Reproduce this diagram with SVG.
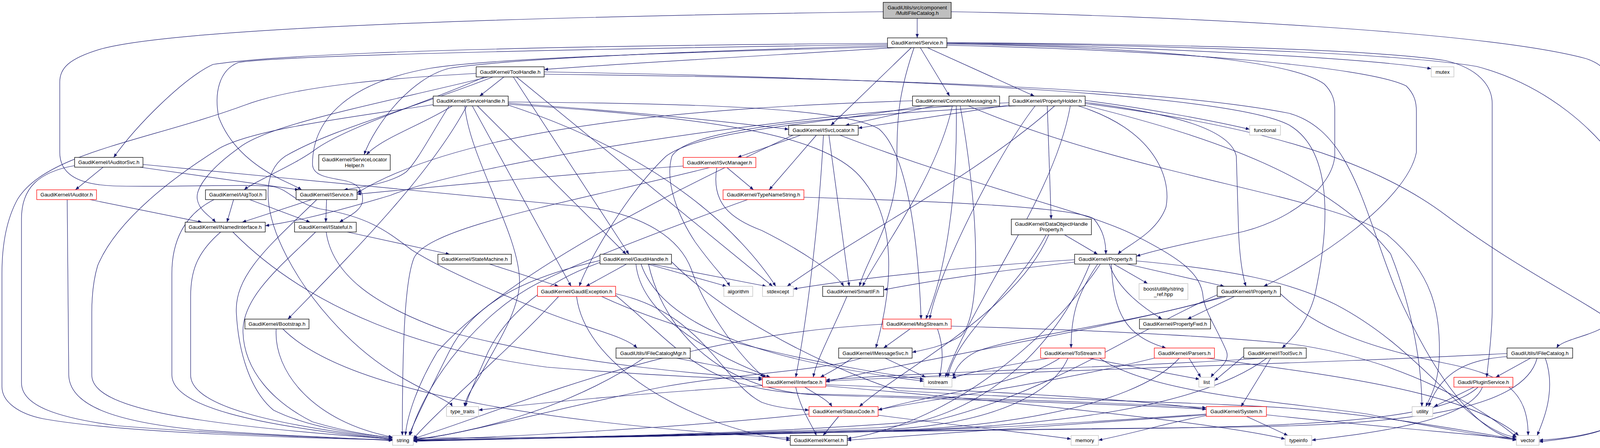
<svg xmlns="http://www.w3.org/2000/svg" width="4225" height="1147" viewBox="0 0 4225 1147">
<defs>
<marker id="a" markerUnits="userSpaceOnUse" markerWidth="11" markerHeight="8" refX="10" refY="4" orient="auto"><path d="M0,0 L10,4 L0,8 z" fill="#191970"/></marker>
</defs>
<style>
.e{fill:none;stroke:#191970;stroke-width:1.2;marker-end:url(#a)}
.node rect{fill:#fff;stroke:#000;stroke-width:1.3}
.node.r rect{stroke:#ff0000}
.node.g rect{stroke:#bfbfbf}
.node.root rect{fill:#bfbfbf}
.node text{font-family:"Liberation Sans",Arial,sans-serif;font-size:13.3px;text-anchor:middle;fill:#000}
</style>
<rect width="4225" height="1147" fill="#fff"/>
<g id="edges">
<path class="e" d="M2348,47 L2348,97"/>
<path class="e" d="M2435,30 C3000,40 3800,80 4060,150 C4105,165 4115,185 4115,210 L4115,820 C4115,855 4000,865 3985,891"/>
<path class="e" d="M2261,30 C1700,38 500,60 260,125 C175,150 153,175 153,210 L153,390 C153,440 190,472 290,476 C420,480 650,470 700,478 C740,485 755,520 820,535 C950,555 1000,600 1054,640 C1150,700 1300,760 1400,800 C1500,840 1600,860 1631,891"/>
<path class="e" d="M2290,122 C2000,140 1600,162 1393,178"/>
<path class="e" d="M2333,122 L2127,321"/>
<path class="e" d="M2356,122 L2431,246"/>
<path class="e" d="M2374,122 L2648,246"/>
<path class="e" d="M2340,122 C2300,240 2296,300 2296,420 C2296,560 2220,660 2200,733"/>
<path class="e" d="M2272,111 C1800,114 800,125 545,165 C470,200 350,320 291,403"/>
<path class="e" d="M2272,114 C1700,122 720,140 610,160 C560,180 548,240 560,300 C590,380 660,430 720,460 C745,472 760,478 772,486"/>
<path class="e" d="M2272,117 C1800,130 1300,150 1150,175 C1050,200 960,320 932,396"/>
<path class="e" d="M2272,120 C1700,135 1250,150 1100,175 C900,210 800,300 800,420 C800,450 840,455 880,462 C920,470 930,490 928,515 C925,540 890,555 869,569"/>
<path class="e" d="M2424,113 C2900,120 3300,150 3390,215 C3410,235 3417,255 3417,280 L3417,400 C3410,480 3300,570 3160,598 C3050,620 2960,640 2909,656"/>
<path class="e" d="M2424,116 C3000,128 3500,170 3600,220 C3620,240 3626,260 3626,285 L3626,390 C3600,520 3350,680 3235,733"/>
<path class="e" d="M2424,111 C2900,118 3500,148 3664,176"/>
<path class="e" d="M2424,109 C3000,113 3500,125 3700,155 C3785,175 3820,220 3820,265 L3820,800 C3818,880 3808,940 3806,966"/>
<path class="e" d="M2424,110 C3100,117 3600,140 3780,170 C3950,215 4100,330 4180,480 C4212,560 4218,650 4218,720 L4218,1000 C4212,1090 4050,1122 3940,1127"/>
<path class="e" d="M1290,197 L1228,246"/>
<path class="e" d="M1219,188 C1000,200 760,220 630,268 C380,360 120,390 45,510 C12,570 5,640 5,700 L5,990 C5,1030 50,1060 110,1072 C320,1110 800,1122 1005,1126"/>
<path class="e" d="M1240,197 C1100,260 900,320 811,380 C760,420 650,465 625,486"/>
<path class="e" d="M1250,197 C950,270 680,320 610,380 C540,430 500,480 505,510 C510,540 540,555 552,569"/>
<path class="e" d="M1314,197 L1610,651"/>
<path class="e" d="M1322,197 L1978,733"/>
<path class="e" d="M1393,184 C2300,200 3150,240 3300,320 C3420,390 3400,600 3365,760 C3345,830 3305,870 3282,891"/>
<path class="e" d="M1393,190 C2300,200 3000,230 3300,290 C3480,340 3500,600 3600,800 C3690,990 3790,1110 3882,1125"/>
<path class="e" d="M1262,197 C1050,280 850,330 730,400 C600,490 780,810 1000,950 C1100,1010 1150,1025 1158,1041"/>
<path class="e" d="M1301,264 C1600,285 1850,310 2019,331"/>
<path class="e" d="M1209,271 L1462,733"/>
<path class="e" d="M1222,271 L1603,651"/>
<path class="e" d="M1195,271 C1100,450 900,650 737,817"/>
<path class="e" d="M1301,261 C1700,265 2150,270 2250,330 C2320,390 2350,600 2358,817"/>
<path class="e" d="M1301,267 C1800,300 2100,340 2200,450 C2300,560 2285,740 2242,891"/>
<path class="e" d="M1158,271 C1080,320 980,352 938,396"/>
<path class="e" d="M1150,271 C1100,350 1070,410 1040,440 C1000,470 920,480 880,486"/>
<path class="e" d="M1109,268 C900,300 650,330 561,380 C450,450 300,560 250,680 C238,720 235,760 235,800 L235,960 C235,1040 450,1085 1005,1124"/>
<path class="e" d="M1301,269 C1700,400 1900,600 1986,733"/>
<path class="e" d="M1190,271 C1200,400 1330,600 1330,720 C1330,800 1260,900 1230,960 C1205,1000 1192,1020 1189,1041"/>
<path class="e" d="M2391,271 L2164,321"/>
<path class="e" d="M2448,271 C2452,500 2420,700 2370,817"/>
<path class="e" d="M2438,271 C2400,450 2250,650 2208,733"/>
<path class="e" d="M2458,271 C2500,500 2520,800 2460,860 C2420,885 2370,895 2335,902"/>
<path class="e" d="M2479,271 C2900,450 3400,500 3550,600 C3670,700 3685,800 3685,900 C3685,980 3660,1020 3650,1041"/>
<path class="e" d="M2360,271 C2100,320 1800,330 1705,400 C1600,500 1500,680 1483,733"/>
<path class="e" d="M2336,258 C1800,275 1200,320 914,494"/>
<path class="e" d="M2583,269 C2450,290 2300,312 2197,328"/>
<path class="e" d="M2681,271 L2691,561"/>
<path class="e" d="M2760,271 C2950,330 3000,450 2985,530 C2960,600 2880,630 2862,651"/>
<path class="e" d="M2778,262 C3000,290 3150,330 3165,400 L3171,600 C3175,680 3185,720 3190,733"/>
<path class="e" d="M2778,257 C2950,280 3100,308 3199,331"/>
<path class="e" d="M2778,265 C3200,320 3500,400 3700,550 C3900,700 4100,790 4160,850 L4165,1050 C4150,1110 4000,1125 3940,1131"/>
<path class="e" d="M2778,270 C3100,350 3400,450 3560,650 C3620,800 3640,950 3640,1041"/>
<path class="e" d="M2740,271 C2700,500 2500,750 2420,966"/>
<path class="e" d="M2700,271 C2500,450 2200,600 2015,733"/>
<path class="e" d="M2600,271 C2100,300 1760,330 1720,400 C1700,470 1740,560 1780,620 C1830,690 1860,715 1868,733"/>
<path class="e" d="M2650,271 C2550,400 2400,700 2380,817"/>
<path class="e" d="M2583,263 C2000,290 1200,420 1000,500 C800,560 720,572 679,578"/>
<path class="e" d="M2050,346 L1888,403"/>
<path class="e" d="M2090,346 L1969,486"/>
<path class="e" d="M2122,346 L2174,733"/>
<path class="e" d="M2108,346 C2095,600 2060,850 2037,966"/>
<path class="e" d="M2030,346 C1700,500 1300,700 1120,900 C1060,1000 1040,1080 1038,1115"/>
<path class="e" d="M2150,346 C2500,480 2780,540 2900,600 C3020,660 3075,700 3080,760 C3085,800 3120,850 3140,900 C3150,930 3110,950 3100,966"/>
<path class="e" d="M1749,425 C1400,450 1100,480 914,497"/>
<path class="e" d="M1861,429 L1929,486"/>
<path class="e" d="M1835,429 C1820,520 1870,560 1950,590 C2050,640 2140,700 2160,733"/>
<path class="e" d="M1817,429 C1450,520 1100,580 1060,660 C1035,720 1030,900 1030,1115"/>
<path class="e" d="M2058,505 C2400,515 2750,530 2800,560 C2825,590 2831,620 2831,651"/>
<path class="e" d="M1914,511 C1750,570 1450,680 1350,740 C1200,830 1080,1000 1050,1115"/>
<path class="e" d="M264,428 L193,486"/>
<path class="e" d="M358,428 L765,486"/>
<path class="e" d="M191,424 C100,440 55,480 55,560 L55,980 C55,1040 150,1070 300,1090 C600,1115 900,1122 1005,1127"/>
<path class="e" d="M366,421 C900,470 1300,510 1500,530 C1650,550 1740,610 1770,690 C1800,780 1880,900 1956,966"/>
<path class="e" d="M230,511 L517,569"/>
<path class="e" d="M172,511 L176,960 C178,1040 300,1080 500,1100 C700,1115 900,1122 1005,1128"/>
<path class="e" d="M598,511 L581,569"/>
<path class="e" d="M639,511 L794,569"/>
<path class="e" d="M548,511 C470,550 440,620 440,700 L440,960 C440,1040 650,1090 1005,1125"/>
<path class="e" d="M798,511 L620,569"/>
<path class="e" d="M836,511 L834,569"/>
<path class="e" d="M811,511 C700,620 600,700 605,800 C610,900 640,1000 700,1050 C800,1100 950,1115 1005,1121"/>
<path class="e" d="M596,594 C800,800 1100,900 1400,940 C1700,965 1900,970 1952,972"/>
<path class="e" d="M565,594 C500,650 488,700 488,760 L488,960 C488,1040 700,1088 1005,1124"/>
<path class="e" d="M889,594 L1151,651"/>
<path class="e" d="M835,594 C850,700 950,780 1150,850 C1500,940 1850,962 1952,968"/>
<path class="e" d="M808,594 C720,680 620,760 622,850 C625,950 700,1030 800,1080 C900,1110 980,1118 1005,1120"/>
<path class="e" d="M1253,676 L1430,733"/>
<path class="e" d="M1604,676 L1500,733"/>
<path class="e" d="M1658,676 L1860,733"/>
<path class="e" d="M1667,676 L1962,733"/>
<path class="e" d="M1536,667 C1300,720 1200,800 1150,900 C1100,1000 1060,1080 1047,1115"/>
<path class="e" d="M1536,672 C1400,720 1300,800 1250,900 C1215,980 1195,1020 1192,1041"/>
<path class="e" d="M1628,676 C1640,800 1800,900 1972,966"/>
<path class="e" d="M1641,676 C1700,850 2000,930 2365,976"/>
<path class="e" d="M1660,676 C1700,850 1850,1010 2120,1012 C2500,1025 2900,1035 3088,1048"/>
<path class="e" d="M1719,670 C1900,850 2200,970 2300,1000 C2700,1025 3100,1030 3300,1045 C3600,1070 3780,1110 3882,1124"/>
<path class="e" d="M1576,752 C1800,800 1850,980 1950,1030 C1990,1045 2040,1048 2071,1050"/>
<path class="e" d="M1430,759 C1300,900 1120,1050 1058,1124"/>
<path class="e" d="M1476,759 C1500,950 1800,1100 2023,1127"/>
<path class="e" d="M1540,759 C1800,880 2200,950 2365,971"/>
<path class="e" d="M1576,756 C1750,900 1800,1010 2130,1010 C2500,1020 2900,1032 3088,1044"/>
<path class="e" d="M2168,759 C2130,850 2090,920 2082,966"/>
<path class="e" d="M2751,671 C2500,700 2350,725 2262,742"/>
<path class="e" d="M2751,665 C2500,680 2200,712 2031,740"/>
<path class="e" d="M2851,676 L2938,726"/>
<path class="e" d="M2885,676 L3134,733"/>
<path class="e" d="M2840,676 C2860,740 2930,790 2975,817"/>
<path class="e" d="M2810,676 C2760,750 2742,800 2742,891"/>
<path class="e" d="M2845,676 C2850,800 2880,860 2985,891"/>
<path class="e" d="M2790,676 C2700,900 2500,1080 2250,1095 C1900,1110 1400,1122 1058,1129"/>
<path class="e" d="M2817,676 C2700,850 2450,1080 2169,1123"/>
<path class="e" d="M2909,668 C3150,690 3300,720 3420,780 C3650,900 3750,1100 3882,1120"/>
<path class="e" d="M3160,759 L3040,817"/>
<path class="e" d="M3140,759 C2800,850 2300,930 2114,978"/>
<path class="e" d="M3116,755 C2900,850 2700,1000 2400,1075 C2000,1110 1400,1124 1058,1121"/>
<path class="e" d="M3278,752 C3350,820 3450,880 3700,930 C3850,960 3912,1000 3912,1115"/>
<path class="e" d="M3130,759 C2900,830 2600,860 2500,900 C2460,920 2445,945 2440,966"/>
<path class="e" d="M707,842 C700,950 800,1080 1005,1119"/>
<path class="e" d="M724,842 C900,1020 1500,1090 2023,1122"/>
<path class="e" d="M2330,842 L2262,891"/>
<path class="e" d="M2260,830 C1700,860 1300,1050 1058,1123"/>
<path class="e" d="M2400,842 C2420,900 2410,940 2405,966"/>
<path class="e" d="M2435,835 C2800,845 3100,860 3300,880 C3600,920 3800,1050 3882,1119"/>
<path class="e" d="M2181,917 C2150,940 2120,955 2100,966"/>
<path class="e" d="M2266,917 L2370,966"/>
<path class="e" d="M2205,917 C2100,950 1900,955 1700,990 C1400,1050 1200,1110 1058,1126"/>
<path class="e" d="M2686,917 C2550,940 2470,955 2437,969"/>
<path class="e" d="M2786,917 L3071,971"/>
<path class="e" d="M2713,917 C2600,990 2400,1005 2248,1050"/>
<path class="e" d="M2734,917 C2680,1040 2450,1095 2250,1100 C1900,1108 1400,1124 1058,1130"/>
<path class="e" d="M2815,917 C2950,1010 3300,1030 3500,1060 C3700,1100 3800,1115 3882,1127"/>
<path class="e" d="M3044,917 L3074,966"/>
<path class="e" d="M2963,915 C2700,980 2400,1020 2248,1049"/>
<path class="e" d="M3019,917 C2900,1050 2500,1100 2250,1102 C1900,1110 1400,1124 1058,1127"/>
<path class="e" d="M3090,917 C3400,960 3750,1000 3888,1115"/>
<path class="e" d="M3253,917 L3177,1041"/>
<path class="e" d="M3184,912 L3109,975"/>
<path class="e" d="M3232,917 C2900,940 2400,950 2114,973"/>
<path class="e" d="M3243,917 C3050,1060 2600,1095 2250,1104 C1900,1112 1400,1124 1058,1128"/>
<path class="e" d="M3918,917 L3829,966"/>
<path class="e" d="M3858,913 C3760,920 3690,950 3657,1041"/>
<path class="e" d="M3858,905 C3400,930 2600,950 2114,976"/>
<path class="e" d="M3956,917 C3985,1000 3950,1080 3935,1115"/>
<path class="e" d="M3935,917 C3900,1050 3600,1085 3200,1093 C2800,1100 2400,1100 2250,1104 C1900,1112 1400,1124 1058,1127"/>
<path class="e" d="M1732,917 C1850,940 1940,955 1962,966"/>
<path class="e" d="M1648,917 C1450,1050 1200,1110 1058,1125"/>
<path class="e" d="M3774,991 L3671,1041"/>
<path class="e" d="M3795,991 C3760,1080 3500,1110 3358,1127"/>
<path class="e" d="M3784,991 C3700,1070 3400,1088 3000,1096 C2600,1102 2400,1103 2250,1105 C1900,1112 1400,1124 1058,1128"/>
<path class="e" d="M1953,987 C1600,1010 1350,1035 1225,1050"/>
<path class="e" d="M2037,991 C2050,1050 2080,1090 2090,1115"/>
<path class="e" d="M2060,991 C2090,1010 2120,1025 2130,1041"/>
<path class="e" d="M2114,985 C2500,1000 2900,1020 3088,1048"/>
<path class="e" d="M2114,988 C2600,1030 3100,1080 3290,1124"/>
<path class="e" d="M2147,1066 L2107,1115"/>
<path class="e" d="M2248,1063 C2450,1090 2650,1110 2742,1124"/>
<path class="e" d="M2071,1060 C1800,1090 1300,1120 1058,1126"/>
<path class="e" d="M3191,1066 L3297,1115"/>
<path class="e" d="M3242,1062 C3500,1090 3750,1110 3882,1124"/>
<path class="e" d="M3088,1060 C2800,1080 2500,1100 2250,1104 C1900,1112 1400,1124 1058,1127"/>
<path class="e" d="M3088,1062 C2700,1090 2400,1110 2169,1127"/>
<path class="e" d="M3088,1064 C3000,1080 2900,1110 2812,1127"/>
<path class="e" d="M2725,601 L2810,651"/>
<path class="e" d="M2678,601 C2600,750 2450,850 2426,966"/>
<path class="e" d="M2685,601 C2600,800 2300,950 2200,1041"/>
</g>
<g id="n_root" class="node root"><rect x="2261" y="6" width="174" height="41"/><text x="2348" y="23.5">GaudiUtils/src/component</text><text x="2348" y="38">/MultiFileCatalog.h</text></g>
<g id="n_service" class="node"><rect x="2272" y="97" width="152" height="25"/><text x="2348" y="114">GaudiKernel/Service.h</text></g>
<g id="n_toolhandle" class="node"><rect x="1219" y="171" width="174" height="26"/><text x="1306" y="188.5">GaudiKernel/ToolHandle.h</text></g>
<g id="n_mutex" class="node g"><rect x="3664" y="171" width="58" height="26"/><text x="3693" y="188.5">mutex</text></g>
<g id="n_servicehandle" class="node"><rect x="1109" y="246" width="192" height="25"/><text x="1205" y="263">GaudiKernel/ServiceHandle.h</text></g>
<g id="n_commonmessaging" class="node"><rect x="2336" y="246" width="223" height="25"/><text x="2447.5" y="263">GaudiKernel/CommonMessaging.h</text></g>
<g id="n_propertyholder" class="node"><rect x="2583" y="246" width="195" height="25"/><text x="2680.5" y="263">GaudiKernel/PropertyHolder.h</text></g>
<g id="n_isvclocator" class="node"><rect x="2019" y="321" width="178" height="25"/><text x="2108" y="338">GaudiKernel/ISvcLocator.h</text></g>
<g id="n_functional" class="node g"><rect x="3199" y="321" width="79" height="25"/><text x="3238.5" y="338">functional</text></g>
<g id="n_iauditorsvc" class="node"><rect x="191" y="403" width="175" height="25"/><text x="278.5" y="420">GaudiKernel/IAuditorSvc.h</text></g>
<g id="n_servicelocatorhelper" class="node"><rect x="816" y="396" width="183" height="40"/><text x="907.5" y="413">GaudiKernel/ServiceLocator</text><text x="907.5" y="428">Helper.h</text></g>
<g id="n_isvcmanager" class="node r"><rect x="1749" y="403" width="186" height="26"/><text x="1842" y="420.5">GaudiKernel/ISvcManager.h</text></g>
<g id="n_iauditor" class="node r"><rect x="94" y="486" width="153" height="25"/><text x="170.5" y="503">GaudiKernel/IAuditor.h</text></g>
<g id="n_ialgtool" class="node"><rect x="526" y="486" width="155" height="25"/><text x="603.5" y="503">GaudiKernel/IAlgTool.h</text></g>
<g id="n_iservice" class="node"><rect x="758" y="486" width="156" height="25"/><text x="836" y="503">GaudiKernel/IService.h</text></g>
<g id="n_typenamestring" class="node r"><rect x="1851" y="486" width="207" height="25"/><text x="1954.5" y="503">GaudiKernel/TypeNameString.h</text></g>
<g id="n_dataobjecthandleproperty" class="node"><rect x="2589" y="561" width="205" height="40"/><text x="2691.5" y="577.5">GaudiKernel/DataObjectHandle</text><text x="2691.5" y="592">Property.h</text></g>
<g id="n_inamedinterface" class="node"><rect x="474" y="569" width="205" height="25"/><text x="576.5" y="586">GaudiKernel/INamedInterface.h</text></g>
<g id="n_istateful" class="node"><rect x="754" y="569" width="158" height="25"/><text x="833" y="586">GaudiKernel/IStateful.h</text></g>
<g id="n_statemachine" class="node"><rect x="1121" y="651" width="188" height="25"/><text x="1215" y="668">GaudiKernel/StateMachine.h</text></g>
<g id="n_gaudihandle" class="node"><rect x="1536" y="651" width="183" height="25"/><text x="1627.5" y="668">GaudiKernel/GaudiHandle.h</text></g>
<g id="n_property" class="node"><rect x="2751" y="651" width="158" height="25"/><text x="2830" y="668">GaudiKernel/Property.h</text></g>
<g id="n_gaudiexception" class="node r"><rect x="1376" y="733" width="200" height="26"/><text x="1476" y="750.5">GaudiKernel/GaudiException.h</text></g>
<g id="n_algorithm" class="node g"><rect x="1853" y="733" width="74" height="26"/><text x="1890" y="750.5">algorithm</text></g>
<g id="n_stdexcept" class="node g"><rect x="1952" y="733" width="79" height="26"/><text x="1991.5" y="750.5">stdexcept</text></g>
<g id="n_smartif" class="node"><rect x="2106" y="733" width="156" height="26"/><text x="2184" y="750.5">GaudiKernel/SmartIF.h</text></g>
<g id="n_stringref" class="node g"><rect x="2916" y="726" width="125" height="41"/><text x="2978.5" y="743.5">boost/utility/string</text><text x="2978.5" y="758">_ref.hpp</text></g>
<g id="n_iproperty" class="node"><rect x="3116" y="733" width="162" height="26"/><text x="3197" y="750.5">GaudiKernel/IProperty.h</text></g>
<g id="n_bootstrap" class="node"><rect x="627" y="817" width="164" height="25"/><text x="709" y="834">GaudiKernel/Bootstrap.h</text></g>
<g id="n_msgstream" class="node r"><rect x="2260" y="817" width="175" height="25"/><text x="2347.5" y="834">GaudiKernel/MsgStream.h</text></g>
<g id="n_propertyfwd" class="node"><rect x="2917" y="817" width="182" height="25"/><text x="3008" y="834">GaudiKernel/PropertyFwd.h</text></g>
<g id="n_ifilecatalogmgr" class="node"><rect x="1577" y="891" width="190" height="26"/><text x="1672" y="908.5">GaudiUtils/IFileCatalogMgr.h</text></g>
<g id="n_imessagesvc" class="node"><rect x="2147" y="891" width="188" height="26"/><text x="2241" y="908.5">GaudiKernel/IMessageSvc.h</text></g>
<g id="n_tostream" class="node r"><rect x="2664" y="891" width="165" height="26"/><text x="2746.5" y="908.5">GaudiKernel/ToStream.h</text></g>
<g id="n_parsers" class="node r"><rect x="2955" y="891" width="154" height="26"/><text x="3032" y="908.5">GaudiKernel/Parsers.h</text></g>
<g id="n_itoolsvc" class="node"><rect x="3184" y="891" width="160" height="26"/><text x="3264" y="908.5">GaudiKernel/IToolSvc.h</text></g>
<g id="n_ifilecatalog" class="node"><rect x="3858" y="891" width="168" height="26"/><text x="3942" y="908.5">GaudiUtils/IFileCatalog.h</text></g>
<g id="n_iinterface" class="node r"><rect x="1952" y="966" width="162" height="25"/><text x="2033" y="983">GaudiKernel/IInterface.h</text></g>
<g id="n_iostream" class="node g"><rect x="2365" y="966" width="72" height="25"/><text x="2401" y="983">iostream</text></g>
<g id="n_list" class="node g"><rect x="3069" y="966" width="40" height="25"/><text x="3089" y="983">list</text></g>
<g id="n_pluginservice" class="node r"><rect x="3722" y="966" width="151" height="25"/><text x="3797.5" y="983">Gaudi/PluginService.h</text></g>
<g id="n_type_traits" class="node g"><rect x="1143" y="1041" width="82" height="25"/><text x="1184" y="1058">type_traits</text></g>
<g id="n_statuscode" class="node r"><rect x="2071" y="1041" width="177" height="25"/><text x="2159.5" y="1058">GaudiKernel/StatusCode.h</text></g>
<g id="n_system" class="node r"><rect x="3088" y="1041" width="154" height="25"/><text x="3165" y="1058">GaudiKernel/System.h</text></g>
<g id="n_utility" class="node g"><rect x="3615" y="1041" width="53" height="25"/><text x="3641.5" y="1058">utility</text></g>
<g id="n_string" class="node g"><rect x="1005" y="1115" width="53" height="25"/><text x="1031.5" y="1132">string</text></g>
<g id="n_kernel" class="node"><rect x="2023" y="1115" width="146" height="25"/><text x="2096" y="1132">GaudiKernel/Kernel.h</text></g>
<g id="n_memory" class="node g"><rect x="2742" y="1115" width="70" height="25"/><text x="2777" y="1132">memory</text></g>
<g id="n_typeinfo" class="node g"><rect x="3290" y="1115" width="68" height="25"/><text x="3324" y="1132">typeinfo</text></g>
<g id="n_vector" class="node g"><rect x="3882" y="1115" width="58" height="25"/><text x="3911" y="1132">vector</text></g>
</svg>
